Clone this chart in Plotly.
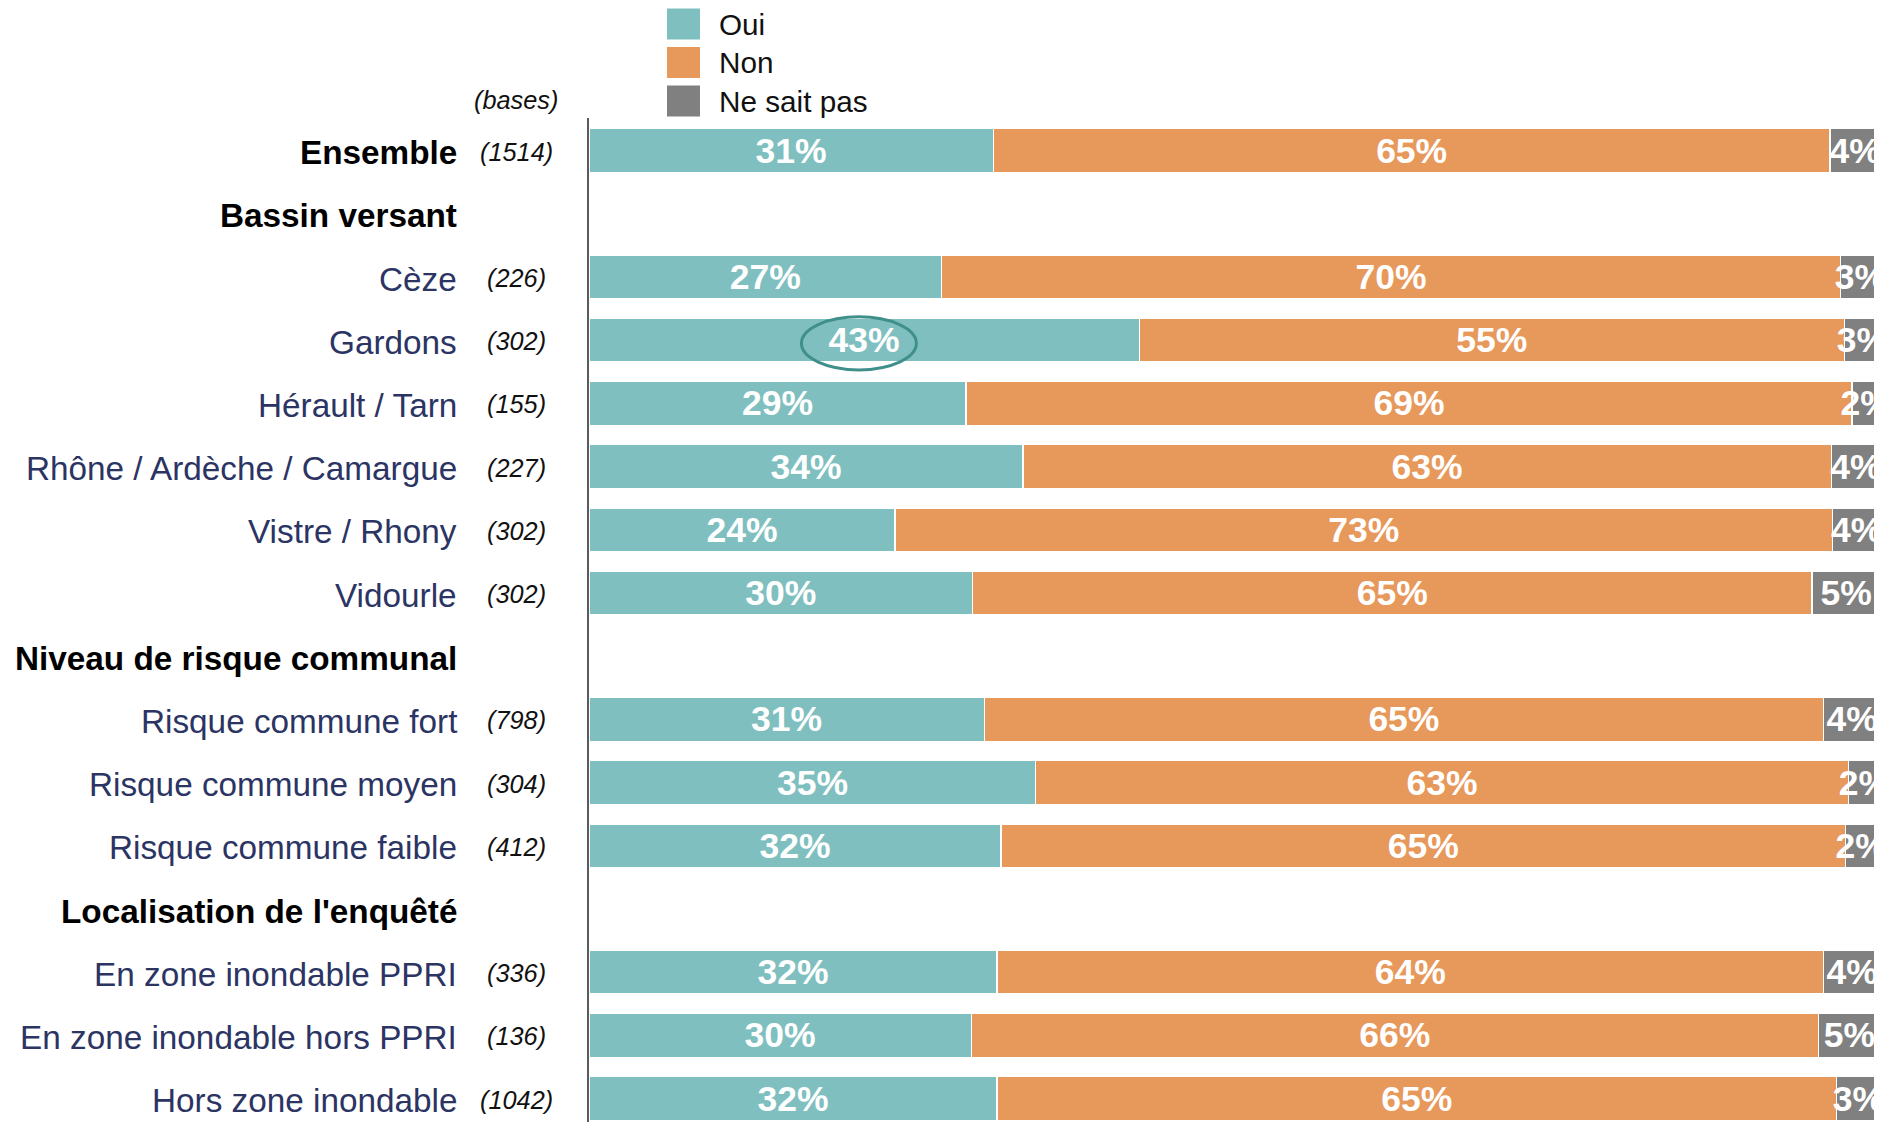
import plotly.graph_objects as go

# ---------------- data ----------------
display_rows = [
    "Ensemble", "Bassin versant", "Cèze", "Gardons", "Hérault / Tarn",
    "Rhône / Ardèche / Camargue", "Vistre / Rhony", "Vidourle",
    "Niveau de risque communal", "Risque commune fort", "Risque commune moyen",
    "Risque commune faible", "Localisation de l'enquêté", "En zone inondable PPRI",
    "En zone inondable hors PPRI", "Hors zone inondable",
]
bold_rows = ["Ensemble", "Bassin versant", "Niveau de risque communal", "Localisation de l'enquêté"]

categories = [
    "Ensemble", "Cèze", "Gardons", "Hérault / Tarn", "Rhône / Ardèche / Camargue",
    "Vistre / Rhony", "Vidourle", "Risque commune fort", "Risque commune moyen",
    "Risque commune faible", "En zone inondable PPRI", "En zone inondable hors PPRI",
    "Hors zone inondable",
]
bases = [1514, 226, 302, 155, 227, 302, 302, 798, 304, 412, 336, 136, 1042]

oui = [31.3, 27.3, 42.6, 29.2, 33.6, 23.7, 29.7, 30.6, 34.6, 31.9, 31.6, 29.6, 31.6]
non = [64.8, 69.6, 54.6, 68.6, 62.6, 72.6, 65.0, 65.0, 62.9, 65.4, 64.0, 65.6, 65.0]
nsp = [3.9, 3.1, 2.8, 2.2, 3.8, 3.7, 5.3, 4.4, 2.5, 2.4, 4.4, 4.8, 3.4]

oui_labels = [31, 27, 43, 29, 34, 24, 30, 31, 35, 32, 32, 30, 32]
non_labels = [65, 70, 55, 69, 63, 73, 65, 65, 63, 65, 64, 66, 65]
nsp_labels = [4, 3, 3, 2, 4, 4, 5, 4, 2, 2, 4, 5, 3]

series = [
    ("Oui", oui, oui_labels, "#7FBFBF"),
    ("Non", non, non_labels, "#E7985B"),
    ("Ne sait pas", nsp, nsp_labels, "#808080"),
]
highlight_row = "Gardons"

# ---------------- layout geometry (page pixels) ----------------
OFF = 8  # default page body margin
W, H = 1885 - OFF, 1122 - OFF
PL, PR, PT, PB = 589, 1874, 118, 1122  # plot area in page pixels
ROW0, ROWSTEP = 150.6, 63.2
FONT = "Liberation Sans, Arial, sans-serif"


def px_to_paper_x(px):
    return (px - PL) / (PR - PL)


def px_to_paper_y(py):
    return (PB - py) / (PB - PT)


ypos = [display_rows.index(c) for c in categories]

fig = go.Figure()
for name, vals, labels, color in series:
    fig.add_trace(go.Bar(
        name=name, x=vals, y=ypos, orientation="h",
        marker=dict(color=color, line=dict(color="white", width=1.3)),
        width=0.69,
        text=[f"{v}%" for v in labels],
        textposition="inside", insidetextanchor="middle",
        textangle=0, constraintext="none",
        textfont=dict(family=FONT, size=35.5, color="white", weight="bold"),
        cliponaxis=True, showlegend=False, hoverinfo="skip",
    ))

y_top = (PT - ROW0) / ROWSTEP
y_bot = (PB - ROW0) / ROWSTEP

fig.update_layout(
    width=W, height=H,
    margin=dict(l=PL - OFF, r=1885 - PR, t=PT - OFF, b=1122 - PB, pad=0),
    barmode="stack",
    plot_bgcolor="white", paper_bgcolor="white",
    showlegend=False,
    xaxis=dict(range=[0, 99.5], visible=False, fixedrange=True),
    yaxis=dict(range=[y_bot, y_top], showticklabels=False, ticks="",
               showgrid=False, zeroline=False,
               showline=True, linecolor="#5A5A5A", linewidth=2),
)

annotations = []
# row labels
for i, row in enumerate(display_rows):
    is_bold = row in bold_rows
    annotations.append(dict(
        x=px_to_paper_x(458.5), xref="paper", y=i, yref="y", yshift=-2,
        text=f"<b>{row}</b>" if is_bold else row,
        showarrow=False, xanchor="right", yanchor="middle",
        font=dict(family=FONT, size=33.3, color="#000000" if is_bold else "#2B3463"),
    ))
# bases
for c, b in zip(categories, bases):
    annotations.append(dict(
        x=px_to_paper_x(516), xref="paper", y=display_rows.index(c), yref="y", yshift=-1,
        text=f"<i>({b})</i>", showarrow=False, xanchor="center", yanchor="middle",
        font=dict(family=FONT, size=25.3, color="#111111"),
    ))
annotations.append(dict(
    x=px_to_paper_x(516), xref="paper", y=px_to_paper_y(100), yref="paper",
    text="<i>(bases)</i>", showarrow=False, xanchor="center", yanchor="middle",
    font=dict(family=FONT, size=25.3, color="#111111"),
))

# legend (drawn manually)
shapes = []
leg_centers = [24, 62.5, 101]
for (name, _, _, color), cy in zip(series, leg_centers):
    shapes.append(dict(
        type="rect", xref="paper", yref="paper",
        x0=px_to_paper_x(667), x1=px_to_paper_x(700),
        y0=px_to_paper_y(cy - 15.5), y1=px_to_paper_y(cy + 15.5),
        fillcolor=color, line=dict(width=0),
    ))
    annotations.append(dict(
        x=px_to_paper_x(717), xref="paper", y=px_to_paper_y(cy), yref="paper",
        text=name, showarrow=False, xanchor="left", yanchor="middle",
        font=dict(family=FONT, size=29.7, color="#111111"),
    ))

# highlight ellipse around the Gardons "Oui" value
hi = categories.index(highlight_row)
hy = display_rows.index(highlight_row) + 0.05
hx = oui[hi] / 2 - 0.4
shapes.append(dict(
    type="circle", xref="x", yref="y",
    x0=hx - 4.45, x1=hx + 4.45, y0=hy - 0.42, y1=hy + 0.42,
    line=dict(color="#3F8F8B", width=3), fillcolor="rgba(0,0,0,0)",
))

fig.update_layout(annotations=annotations, shapes=shapes)
fig.write_html("out.html")
